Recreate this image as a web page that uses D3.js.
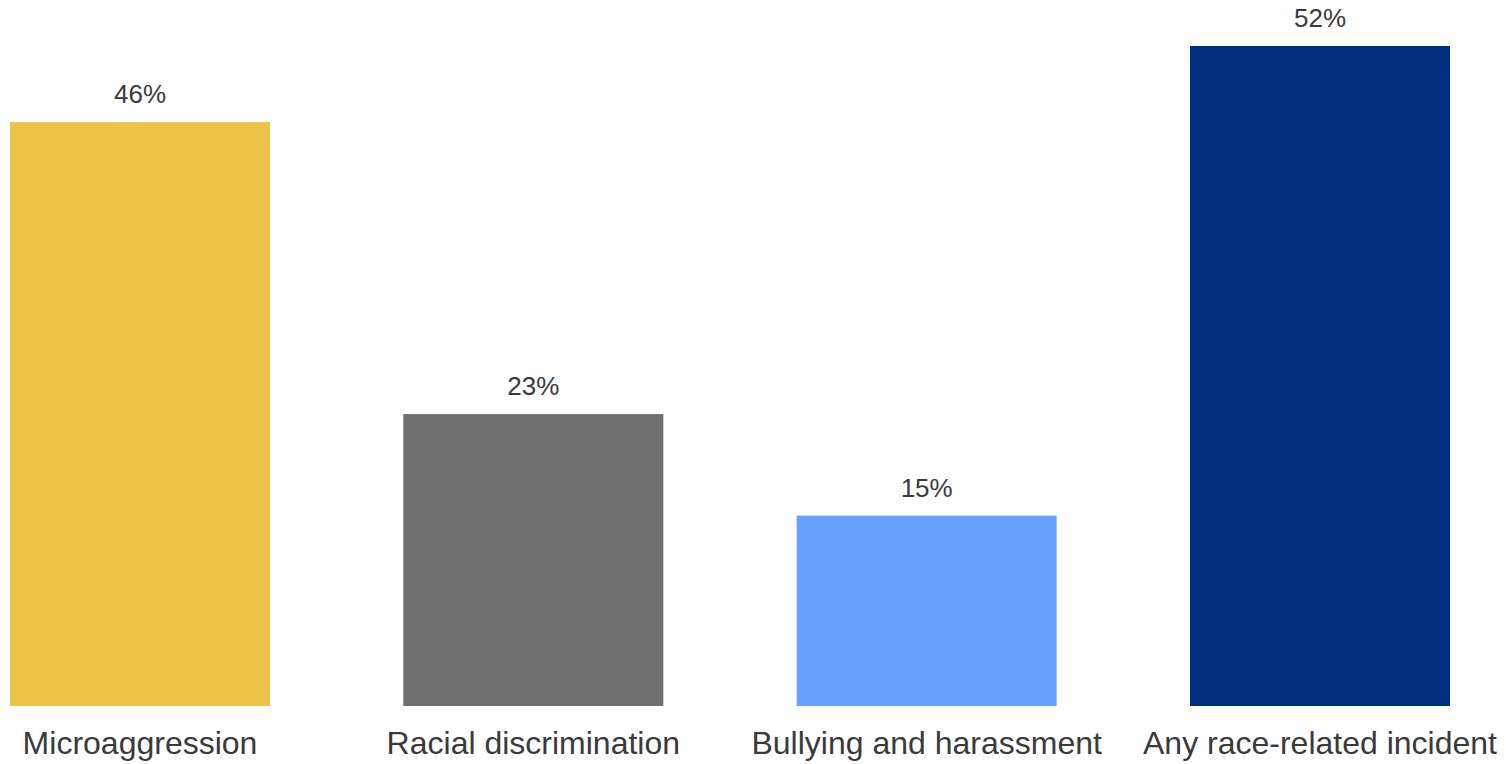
<!DOCTYPE html>
<html>
<head>
<meta charset="utf-8">
<script src="https://cdn.jsdelivr.net/npm/d3@7/dist/d3.min.js"></script>
<style>
  html, body { margin: 0; padding: 0; background: #fff; }
  svg { display: block; }
  text { font-family: "Liberation Sans", Arial, sans-serif; fill: #3a3a3a; }
</style>
</head>
<body>
<svg id="chart" width="1506" height="764"></svg>
<script>
// Share of respondents reporting each type of race-related incident
const categories = ["Microaggression", "Racial discrimination", "Bullying and harassment", "Any race-related incident"];
const values = [46, 23, 15, 52];
const colors = ["#ECC247", "#6E6E6E", "#66A1FF", "#00307D"];

const svg = d3.select("#chart");
const baseline = 706;

const x = d3.scaleBand()
  .domain(categories)
  .range([10, 1450])
  .paddingInner(0.339)
  .paddingOuter(0);

const y = d3.scaleLinear()
  .domain([0, 52])
  .range([baseline, 46]);

const data = categories.map((c, i) => ({ cat: c, val: values[i], color: colors[i] }));

svg.selectAll("rect.bar")
  .data(data)
  .join("rect")
  .attr("class", "bar")
  .attr("x", d => x(d.cat))
  .attr("y", d => y(d.val))
  .attr("width", x.bandwidth())
  .attr("height", d => baseline - y(d.val))
  .attr("fill", d => d.color);

// value labels above bars
svg.selectAll("text.val")
  .data(data)
  .join("text")
  .attr("class", "val")
  .attr("x", d => x(d.cat) + x.bandwidth() / 2)
  .attr("y", d => y(d.val) - 19)
  .attr("text-anchor", "middle")
  .style("font-size", "26px")
  .text(d => d.val + "%");

// category axis labels
svg.selectAll("text.cat")
  .data(data)
  .join("text")
  .attr("class", "cat")
  .attr("x", d => x(d.cat) + x.bandwidth() / 2)
  .attr("y", 754)
  .attr("text-anchor", "middle")
  .style("font-size", "32px")
  .text(d => d.cat);
</script>
</body>
</html>
